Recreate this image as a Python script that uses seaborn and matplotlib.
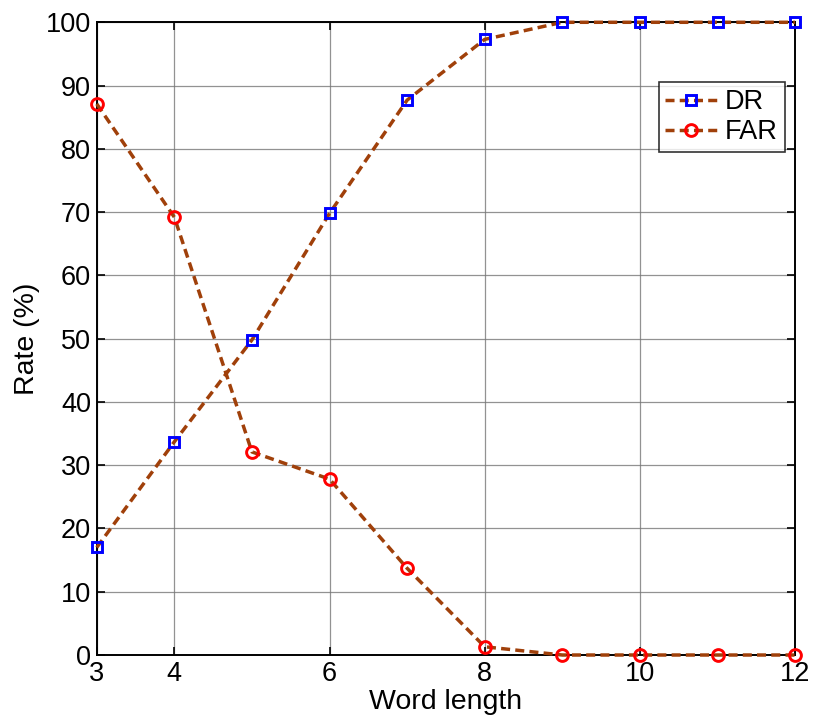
import matplotlib
matplotlib.use("Agg")
import matplotlib.pyplot as plt
import seaborn as sns
import pandas as pd

word_length = [3, 4, 5, 6, 7, 8, 9, 10, 11, 12]
dr = [17.0, 33.7, 49.8, 69.8, 87.7, 97.3, 100, 100, 100, 100]
far = [87.1, 69.2, 32.1, 27.8, 13.7, 1.3, 0, 0, 0, 0]
x_ticks = [3, 4, 6, 8, 10, 12]
y_ticks = list(range(0, 101, 10))

sns.set_theme(style="white")
plt.rcParams["font.family"] = ["Liberation Sans", "DejaVu Sans"]
plt.rcParams["text.color"] = "black"
plt.rcParams["axes.labelcolor"] = "black"

df = pd.DataFrame({"Word length": word_length, "DR": dr, "FAR": far})

fig = plt.figure(figsize=(8.13, 7.19), dpi=100)
ax = fig.add_axes([0.119, 0.089, 0.859, 0.880])

line_color = "#a0400a"
sns.lineplot(data=df, x="Word length", y="DR", ax=ax, color=line_color,
             linestyle="--", linewidth=2.5, marker="s", markersize=7.2,
             markeredgecolor="#0000ff", markerfacecolor="none",
             markeredgewidth=2.1, label="DR", dashes=False)
sns.lineplot(data=df, x="Word length", y="FAR", ax=ax, color=line_color,
             linestyle="--", linewidth=2.5, marker="o", markersize=8.5,
             markeredgecolor="#ff0000", markerfacecolor="none",
             markeredgewidth=2.1, label="FAR", dashes=False)
for ln in ax.get_lines():
    ln.set_dashes([2.6, 1.5])
    ln.set_clip_on(False)
    ln.set_zorder(3)

ax.set_xlim(3, 12)
ax.set_ylim(0, 100)
ax.set_xticks(x_ticks)
ax.set_yticks(y_ticks)
ax.grid(True, color="#777777", linewidth=0.9, alpha=0.8)
ax.tick_params(axis="both", direction="in", length=6, labelsize=19.5,
               colors="black", right=True, top=True, bottom=True, left=True,
               width=1.2, pad=4)
for s in ax.spines.values():
    s.set_visible(True)
    s.set_color("black")
    s.set_linewidth(1.4)
ax.set_xlabel("Word length", fontsize=20.5, labelpad=2, color="black")
ax.set_ylabel("Rate (%)", fontsize=20.5, labelpad=4, color="black")

leg = ax.legend(loc="upper right", bbox_to_anchor=(0.985, 0.905), fontsize=19.5,
                frameon=True, fancybox=False, edgecolor="black",
                handlelength=1.9, borderpad=0.25, labelspacing=0.15,
                handletextpad=0.3, borderaxespad=0)
leg.get_frame().set_linewidth(1.2)
for t in leg.get_texts():
    t.set_color("black")

fig.savefig("out.png", dpi=100, facecolor="white")
